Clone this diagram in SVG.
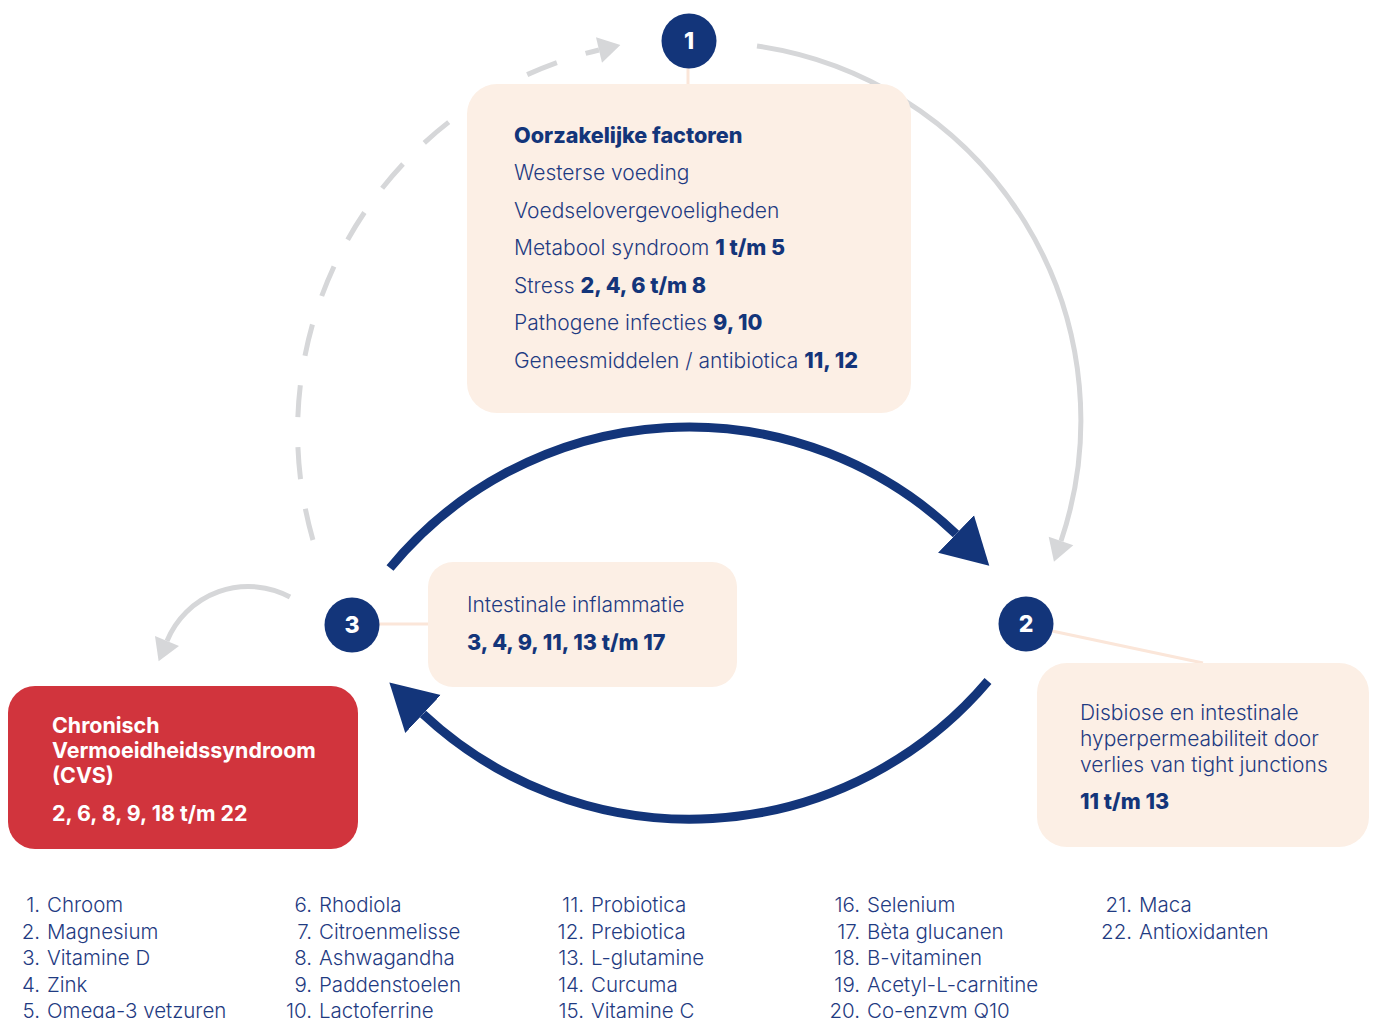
<svg xmlns="http://www.w3.org/2000/svg" width="1375" height="1018" viewBox="0 0 1375 1018">
<defs>
<style>
.box{fill:#fcefe5}
.link{stroke:#fbe6d9;stroke-width:3;fill:none}
.gray{stroke:#d6d7d9;stroke-width:5;fill:none}
.blue{stroke:#13357a;stroke-width:9;fill:none}
.node circle{fill:#13357a}
.num{font-family:Inter,"Liberation Sans",sans-serif;font-weight:800;font-size:23px;fill:#fff;text-anchor:middle}
.t{font-family:Inter,"Liberation Sans",sans-serif;font-size:21px;font-weight:300;fill:#1f3b82}
.b{font-weight:800;font-size:21.6px;fill:#13357a}
.w{font-family:Inter,"Liberation Sans",sans-serif;font-size:21.4px;font-weight:700;fill:#fff}
.lg{font-family:Inter,"Liberation Sans",sans-serif;font-size:20.5px;font-weight:300;fill:#1f3b82}
.ln{text-anchor:end}
</style>
<marker id="ag" markerUnits="userSpaceOnUse" markerWidth="30" markerHeight="30" viewBox="0 -15 25 30" refX="0" refY="0" orient="auto"><path d="M0,-13 L22,0 L0,13 z" fill="#d6d7d9"/></marker>
<marker id="ags" markerUnits="userSpaceOnUse" markerWidth="30" markerHeight="30" viewBox="0 -15 25 30" refX="0" refY="0" orient="auto-start-reverse"><path d="M0,-13 L22,0 L0,13 z" fill="#d6d7d9"/></marker>
<marker id="ab" markerUnits="userSpaceOnUse" markerWidth="50" markerHeight="60" viewBox="0 -30 50 60" refX="0" refY="0" orient="auto"><path d="M0,-26 L46,0 L0,26 z" fill="#13357a"/></marker>
</defs>
<rect width="1375" height="1018" fill="#fff"/>

<g id="connectors">
<path class="gray" d="M757,46 A378,378 0 0 1 1061,541" marker-end="url(#ag)"/>
<path class="gray" d="M599,50 A392,392 0 0 0 320,562" stroke-dasharray="32 30" stroke-dashoffset="18" marker-start="url(#ags)"/>
<path class="gray" d="M290,597 A88,88 0 0 0 167,641" marker-end="url(#ag)"/>
<path class="blue" d="M390,568 A387,387 0 0 1 956,534" marker-end="url(#ab)"/>
<path class="blue" d="M988,681 A391,391 0 0 1 423,714" marker-end="url(#ab)"/>
<line class="link" x1="688" y1="66" x2="688" y2="85"/>
<line class="link" x1="378" y1="624" x2="429" y2="624"/>
<line class="link" x1="1052" y1="631" x2="1203" y2="663"/>
</g>

<g id="box-factoren">
<rect class="box" x="467" y="84" width="444" height="329" rx="30"/>
<text class="t b" x="514" y="143">Oorzakelijke factoren</text>
<text class="t" x="514" y="180">Westerse voeding</text>
<text class="t" x="514" y="217.5">Voedselovergevoeligheden</text>
<text class="t" x="514" y="255">Metabool syndroom <tspan class="b">1 t/m 5</tspan></text>
<text class="t" x="514" y="292.5">Stress <tspan class="b">2, 4, 6 t/m 8</tspan></text>
<text class="t" x="514" y="330">Pathogene infecties <tspan class="b">9, 10</tspan></text>
<text class="t" x="514" y="367.5">Geneesmiddelen / antibiotica <tspan class="b">11, 12</tspan></text>
</g>

<g id="box-inflammatie">
<rect class="box" x="428" y="562" width="309" height="125" rx="25"/>
<text class="t" x="467" y="612">Intestinale inflammatie</text>
<text class="t b" x="467" y="650">3, 4, 9, 11, 13 t/m 17</text>
</g>

<g id="box-disbiose">
<rect class="box" x="1037" y="663" width="332" height="184" rx="30"/>
<text class="t" x="1080" y="720">Disbiose en intestinale</text>
<text class="t" x="1080" y="746">hyperpermeabiliteit door</text>
<text class="t" x="1080" y="772">verlies van tight junctions</text>
<text class="t b" x="1080" y="809">11 t/m 13</text>
</g>

<g id="box-cvs">
<rect x="8" y="686" width="350" height="163" rx="27" fill="#d1343d"/>
<text class="w" x="52" y="733">Chronisch</text>
<text class="w" x="52" y="758">Vermoeidheidssyndroom</text>
<text class="w" x="52" y="783">(CVS)</text>
<text class="w" x="52" y="821">2, 6, 8, 9, 18 t/m 22</text>
</g>

<g id="node-1" class="node"><circle cx="689" cy="41" r="27.5"/><text class="num" x="689" y="49">1</text></g>
<g id="node-2" class="node"><circle cx="1026" cy="624" r="27.5"/><text class="num" x="1026" y="632">2</text></g>
<g id="node-3" class="node"><circle cx="352" cy="625" r="27.5"/><text class="num" x="352" y="633">3</text></g>

<g id="legend" class="lg">
<text class="ln" x="40" y="912">1.</text><text x="47" y="912">Chroom</text>
<text class="ln" x="40" y="938.5">2.</text><text x="47" y="938.5">Magnesium</text>
<text class="ln" x="40" y="965">3.</text><text x="47" y="965">Vitamine D</text>
<text class="ln" x="40" y="991.5">4.</text><text x="47" y="991.5">Zink</text>
<text class="ln" x="40" y="1018">5.</text><text x="47" y="1018">Omega-3 vetzuren</text>
<text class="ln" x="312" y="912">6.</text><text x="319" y="912">Rhodiola</text>
<text class="ln" x="312" y="938.5">7.</text><text x="319" y="938.5">Citroenmelisse</text>
<text class="ln" x="312" y="965">8.</text><text x="319" y="965">Ashwagandha</text>
<text class="ln" x="312" y="991.5">9.</text><text x="319" y="991.5">Paddenstoelen</text>
<text class="ln" x="312" y="1018">10.</text><text x="319" y="1018">Lactoferrine</text>
<text class="ln" x="584" y="912">11.</text><text x="591" y="912">Probiotica</text>
<text class="ln" x="584" y="938.5">12.</text><text x="591" y="938.5">Prebiotica</text>
<text class="ln" x="584" y="965">13.</text><text x="591" y="965">L-glutamine</text>
<text class="ln" x="584" y="991.5">14.</text><text x="591" y="991.5">Curcuma</text>
<text class="ln" x="584" y="1018">15.</text><text x="591" y="1018">Vitamine C</text>
<text class="ln" x="860" y="912">16.</text><text x="867" y="912">Selenium</text>
<text class="ln" x="860" y="938.5">17.</text><text x="867" y="938.5">Bèta glucanen</text>
<text class="ln" x="860" y="965">18.</text><text x="867" y="965">B-vitaminen</text>
<text class="ln" x="860" y="991.5">19.</text><text x="867" y="991.5">Acetyl-L-carnitine</text>
<text class="ln" x="860" y="1018">20.</text><text x="867" y="1018">Co-enzym Q10</text>
<text class="ln" x="1132" y="912">21.</text><text x="1139" y="912">Maca</text>
<text class="ln" x="1132" y="938.5">22.</text><text x="1139" y="938.5">Antioxidanten</text>
</g>
</svg>
